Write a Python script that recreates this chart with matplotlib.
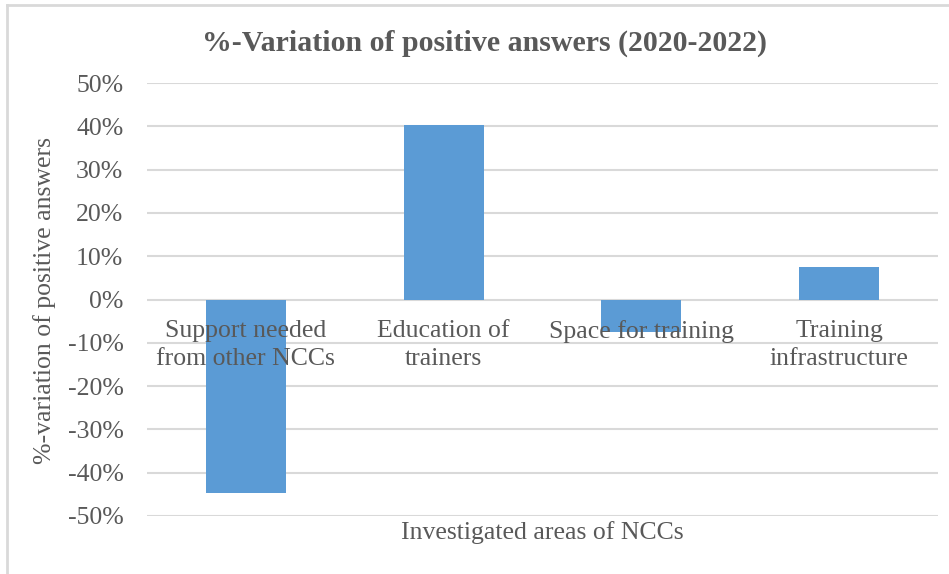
import matplotlib
matplotlib.use('Agg')
import matplotlib.pyplot as plt
from matplotlib.lines import Line2D
from matplotlib.ticker import PercentFormatter

categories = ['Support needed\nfrom other NCCs', 'Education of\ntrainers', 'Space for training', 'Training\ninfrastructure']
variation = [-0.446, 0.404, -0.075, 0.074]
y_ticks = [-0.5, -0.4, -0.3, -0.2, -0.1, 0.0, 0.1, 0.2, 0.3, 0.4, 0.5]

plt.rcParams['font.family'] = ['Liberation Serif', 'DejaVu Serif']
plt.rcParams['axes.unicode_minus'] = False
text_color = '#595959'
grid_color = '#d9d9d9'

fig = plt.figure(figsize=(9.49, 5.74), dpi=100)
ax = fig.add_axes([147 / 949, 1 - 516 / 574, (938 - 147) / 949, (516 - 83) / 574])

x = range(len(categories))
ax.bar(x, variation, width=0.405, color='#5b9bd5', zorder=2)

ax.set_xlim(-0.5, len(categories) - 0.5)
ax.set_ylim(-0.5, 0.5)
ax.set_yticks(y_ticks)
ax.yaxis.set_major_formatter(PercentFormatter(1.0, decimals=0))
ax.grid(axis='y', color=grid_color, linewidth=1.5, zorder=0)
ax.set_axisbelow(True)
for s in ['top', 'right', 'left', 'bottom']:
    ax.spines[s].set_visible(False)
ax.set_xticks([])
ax.tick_params(axis='y', length=0, pad=17, labelsize=18.5, labelcolor=text_color)

# category labels sit next to the zero line, drawn on top of the bars
for i, name in zip(x, categories):
    ax.annotate(name, xy=(i, 0), xycoords='data', xytext=(0, -15), textcoords='offset points',
                ha='center', va='top', multialignment='center', fontsize=18.5,
                color=text_color, linespacing=1.36, zorder=5)

fig.text(542 / 949, 1 - 533 / 574, 'Investigated areas of NCCs', ha='center', va='center',
         fontsize=18.5, color=text_color)
fig.text(45 / 949, 1 - 300 / 574, '%-variation of positive answers', ha='center', va='center',
         rotation=90, fontsize=18.5, color=text_color)
fig.text(484 / 949, 1 - 43 / 574, '%-Variation of positive answers (2020-2022)', ha='center',
         va='center', fontsize=21.5, fontweight='bold', color=text_color)

# chart frame (top and left edges visible in the screenshot)
fig.add_artist(Line2D([7 / 949, 1], [1 - 5 / 574, 1 - 5 / 574], transform=fig.transFigure,
                      color=grid_color, linewidth=2))
fig.add_artist(Line2D([7 / 949, 7 / 949], [0, 1 - 5 / 574], transform=fig.transFigure,
                      color=grid_color, linewidth=2))

fig.savefig('out.png', dpi=100)
